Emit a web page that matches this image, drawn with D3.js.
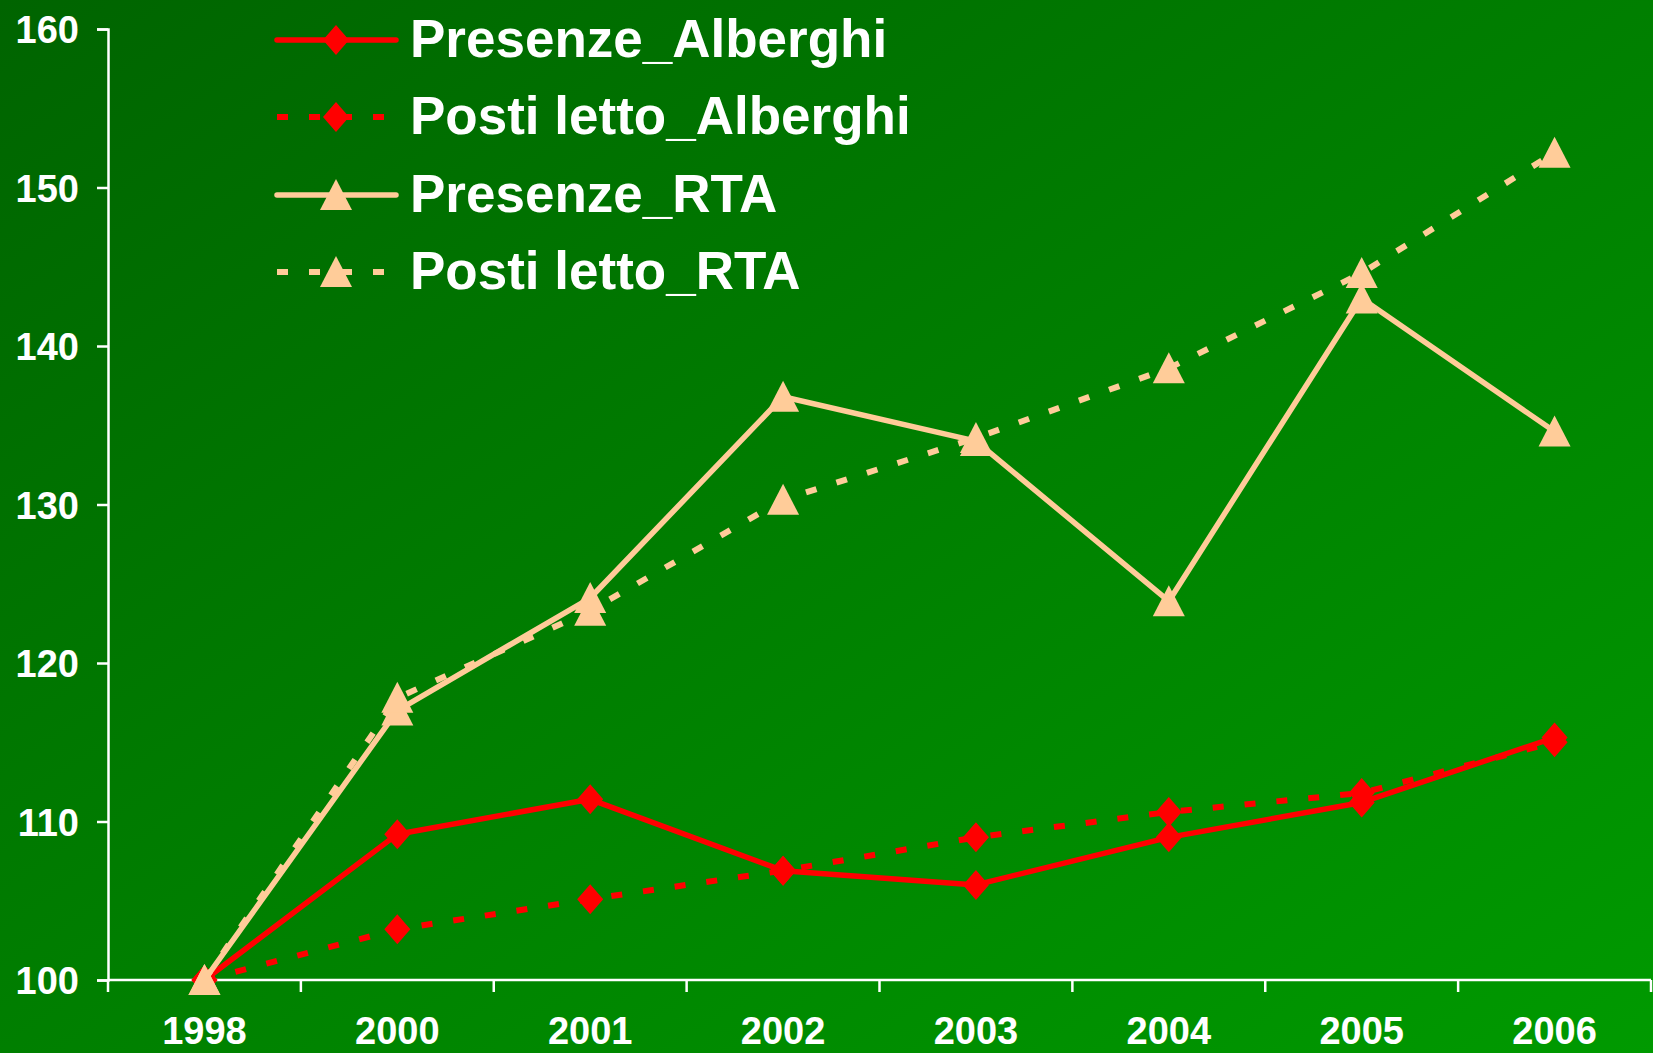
<!DOCTYPE html>
<html>
<head>
<meta charset="utf-8">
<script src="https://cdn.jsdelivr.net/npm/d3@7"></script>
<style>
  body { margin: 0; background: #007a00; overflow: hidden; }
  text { font-family: "Liberation Sans", Arial, sans-serif; font-weight: bold; fill: #fff; }
</style>
</head>
<body>
<div id="chart"></div>
<script>
// years on the x axis
const years = ["1998", "2000", "2001", "2002", "2003", "2004", "2005", "2006"];
const yTicks = [100, 110, 120, 130, 140, 150, 160];

// index values (1998 = 100)
const presenzeAlberghi = [100, 109.2, 111.4, 106.9, 106.0, 109.0, 111.2, 115.3];
const postiAlberghi = [100, 103.2, 105.1, 106.9, 109.0, 110.6, 111.8, 115.0];
const presenzeRTA = [100, 117.0, 124.1, 136.8, 134.0, 123.9, 143.0, 134.6];
const postiRTA = [100, 117.8, 123.3, 130.3, 134.2, 138.6, 144.6, 152.2];

const seriesNames = ["Presenze_Alberghi", "Posti letto_Alberghi", "Presenze_RTA", "Posti letto_RTA"];

const width = 1653;
const height = 1053;

const series = [
  { name: seriesNames[0], values: presenzeAlberghi, color: "#ff0000", dashed: false, marker: "diamond" },
  { name: seriesNames[1], values: postiAlberghi, color: "#ff0000", dashed: true, marker: "diamond" },
  { name: seriesNames[2], values: presenzeRTA, color: "#ffcc99", dashed: false, marker: "triangle" },
  { name: seriesNames[3], values: postiRTA, color: "#ffcc99", dashed: true, marker: "triangle" }
];

const svg = d3.select("#chart")
  .append("svg")
  .attr("width", width)
  .attr("height", height);

// background gradient, dark top-left to bright bottom-right
const grad = svg.append("defs").append("linearGradient")
  .attr("id", "bg")
  .attr("x1", "0%").attr("y1", "0%")
  .attr("x2", "100%").attr("y2", "100%");
grad.append("stop").attr("offset", "0%").attr("stop-color", "#006400");
grad.append("stop").attr("offset", "100%").attr("stop-color", "#009a00");

svg.append("rect")
  .attr("width", width)
  .attr("height", height)
  .attr("fill", "url(#bg)");

const x = d3.scaleBand()
  .domain(years)
  .range([108, 1651]);

const y = d3.scaleLinear()
  .domain([100, 160])
  .range([980, 29]);

// y axis
const yAxis = svg.append("g")
  .attr("transform", "translate(108,0)")
  .call(d3.axisLeft(y).tickValues(yTicks).tickSize(11).tickPadding(18));
yAxis.select(".domain").attr("stroke", "#fff").attr("stroke-width", 2.5);
yAxis.selectAll(".tick line").attr("stroke", "#fff").attr("stroke-width", 2.5);
yAxis.selectAll(".tick text")
  .attr("fill", "#fff")
  .attr("dy", "0.36em")
  .style("font-size", "38px")
  .style("font-family", "Liberation Sans, Arial, sans-serif")
  .style("font-weight", "bold");

// x axis line
svg.append("line")
  .attr("x1", 108).attr("x2", 1651)
  .attr("y1", 980).attr("y2", 980)
  .attr("stroke", "#fff")
  .attr("stroke-width", 2.5);

// tick marks between categories
const bounds = years.map(d => x(d)).concat([x.range()[1]]);
svg.selectAll(".xtick")
  .data(bounds)
  .enter()
  .append("line")
  .attr("class", "xtick")
  .attr("x1", d => d).attr("x2", d => d)
  .attr("y1", 980).attr("y2", 992)
  .attr("stroke", "#fff")
  .attr("stroke-width", 2.5);

// x labels
svg.selectAll(".xlabel")
  .data(years)
  .enter()
  .append("text")
  .attr("class", "xlabel")
  .attr("x", d => x(d) + x.bandwidth() / 2)
  .attr("y", 1044)
  .attr("text-anchor", "middle")
  .style("font-size", "38px")
  .text(d => d);

const line = d3.line()
  .x((d, i) => x(years[i]) + x.bandwidth() / 2)
  .y(d => y(d));

function markerPath(type) {
  if (type === "diamond") return "M0,-15L13,0L0,15L-13,0Z";
  return "M0,-16L16,15L-16,15Z";
}

series.forEach(s => {
  const g = svg.append("g");
  g.append("path")
    .datum(s.values)
    .attr("d", line)
    .attr("fill", "none")
    .attr("stroke", s.color)
    .attr("stroke-width", s.dashed ? 6 : 5.5)
    .attr("stroke-linejoin", "round")
    .attr("stroke-linecap", s.dashed ? "butt" : "round")
    .attr("stroke-dasharray", s.dashed ? "11,21" : null);

  g.selectAll(".marker")
    .data(s.values)
    .enter()
    .append("path")
    .attr("class", "marker")
    .attr("transform", (d, i) => `translate(${x(years[i]) + x.bandwidth() / 2},${y(d)})`)
    .attr("d", markerPath(s.marker))
    .attr("fill", s.color);
});

// legend
const legendY = [40, 117, 195, 272];
const legend = svg.append("g");
series.forEach((s, i) => {
  const row = legend.append("g").attr("transform", `translate(0,${legendY[i]})`);
  row.append("line")
    .attr("x1", 277).attr("x2", 396)
    .attr("stroke", s.color)
    .attr("stroke-width", s.dashed ? 6 : 5.5)
    .attr("stroke-linecap", s.dashed ? "butt" : "round")
    .attr("stroke-dasharray", s.dashed ? "11,21" : null);
  row.append("path")
    .attr("transform", "translate(336,0)")
    .attr("d", markerPath(s.marker))
    .attr("fill", s.color);
  row.append("text")
    .attr("x", 410)
    .attr("y", 17)
    .style("font-size", "53px")
    .text(s.name);
});
</script>
</body>
</html>
